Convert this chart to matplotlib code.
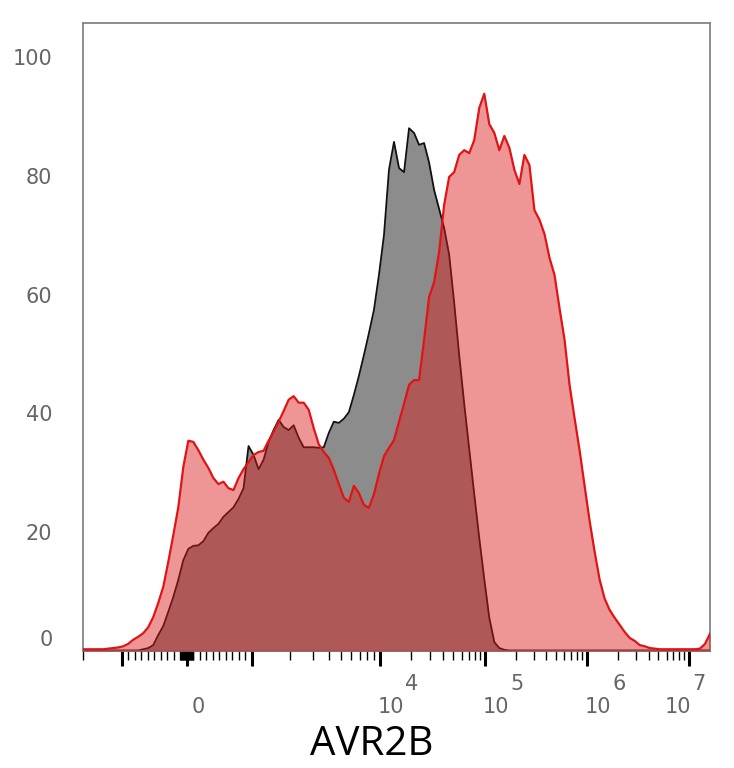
# AVR2B histogram overlay (biexponential x axis), redrawn with matplotlib
import matplotlib
matplotlib.use("Agg")
import matplotlib.pyplot as plt
import numpy as np

# data: % of max per display bin, bins evenly spaced on the display scale
red_pct = [0.3, 0.3, 0.3, 0.3, 0.3, 0.4, 0.5, 0.6, 0.8, 1.2,
           1.9, 2.4, 3.0, 4.0, 5.7, 8.1, 10.8, 15.0, 19.5, 24.2,
           31.0, 35.4, 35.2, 33.8, 32.2, 30.8, 29.1, 28.1, 28.5, 27.4,
           27.1, 29.1, 30.6, 31.8, 33.0, 33.5, 33.7, 35.4, 36.9, 38.6,
           40.4, 42.3, 42.9, 41.8, 41.8, 40.6, 37.5, 34.8, 33.5, 32.5,
           30.5, 28.1, 25.8, 25.1, 27.8, 26.6, 24.6, 24.1, 26.4, 29.8,
           32.8, 34.2, 35.5, 38.6, 41.6, 44.8, 45.6, 45.6, 52.4, 59.6,
           62.1, 67.2, 75.1, 79.8, 80.6, 83.5, 84.3, 83.8, 86.0, 91.4,
           93.8, 88.7, 87.2, 84.3, 86.7, 84.7, 81.0, 78.6, 83.5, 81.8,
           74.2, 72.6, 70.2, 66.2, 63.3, 57.7, 52.4, 44.8, 39.2, 33.8,
           27.8, 21.9, 16.7, 12.0, 8.8, 6.9, 5.6, 4.4, 3.2, 2.2,
           1.7, 1.0, 0.8, 0.5, 0.4, 0.3, 0.3, 0.3, 0.3, 0.3,
           0.3, 0.3, 0.3, 0.4, 1.2, 2.9]

black_pct = [0.1, 0.1, 0.1, 0.1, 0.1, 0.1, 0.1, 0.1, 0.1, 0.1,
             0.1, 0.1, 0.3, 0.5, 1.0, 2.7, 4.2, 6.6, 9.1, 12.0,
             15.3, 17.2, 17.7, 17.8, 18.5, 19.9, 20.7, 21.4, 22.6, 23.4,
             24.2, 25.6, 27.4, 34.5, 33.0, 30.6, 32.2, 35.2, 37.2, 38.9,
             37.7, 37.2, 38.0, 35.9, 34.3, 34.3, 34.3, 34.2, 34.3, 36.7,
             38.6, 38.4, 39.1, 40.2, 43.1, 46.3, 49.8, 53.5, 57.4, 63.3,
             70.0, 81.0, 85.7, 81.3, 80.6, 88.0, 87.2, 85.2, 85.5, 82.2,
             77.6, 74.4, 71.2, 66.7, 58.6, 49.8, 41.6, 34.0, 26.4, 19.0,
             12.1, 5.6, 1.5, 0.5, 0.2, 0.1, 0.1, 0.1, 0.1, 0.1,
             0.1, 0.1, 0.1, 0.1, 0.1, 0.1, 0.1, 0.1, 0.1, 0.1,
             0.1, 0.1, 0.1, 0.1, 0.1, 0.1, 0.1, 0.1, 0.1, 0.1,
             0.1, 0.1, 0.1, 0.1, 0.1, 0.1, 0.1, 0.1, 0.1, 0.1,
             0.1, 0.1, 0.1, 0.1, 0.1, 0.1]

x_min, x_max = -2000, 1.6e7
y_ticks = [0, 20, 40, 60, 80, 100]
x_major = [-1e3, 0, 1e3, 1e4, 1e5, 1e6, 1e7]
x_labels = [(0, "0", ""), (1e4, "10", "4"), (1e5, "10", "5"), (1e6, "10", "6"), (1e7, "10", "7")]

# biexponential-like display scale: linear within +-1000, log decades outside
LIN_EDGE = 1000
DECADES = [3, 4, 5, 6, 7, 8]
DECADE_POS = [65, 193, 298, 400, 502, 604]


def fwd(v):
    v = np.asarray(v, dtype=float)
    a = np.abs(v)
    lg = np.interp(np.log10(np.maximum(a, LIN_EDGE)), DECADES, DECADE_POS)
    return np.sign(v) * np.where(a <= LIN_EDGE, a * DECADE_POS[0] / LIN_EDGE, lg)


def inv(u):
    u = np.asarray(u, dtype=float)
    a = np.abs(u)
    lg = 10 ** np.interp(a, DECADE_POS, DECADES)
    return np.sign(u) * np.where(a <= DECADE_POS[0], a * LIN_EDGE / DECADE_POS[0], lg)


bins = inv(np.linspace(fwd(x_min), fwd(x_max), len(red_pct)))

# minor ticks
x_minor = [s * k * 10 for s in (-1, 1) for k in range(1, 10)]
x_minor += [s * k * 100 for s in (-1, 1) for k in range(1, 10)]
x_minor += [-2000]
x_minor += [k * 10 ** d for d in range(3, 7) for k in range(2, 10)]

fig = plt.figure(figsize=(7.34, 7.68), dpi=100)
ax = fig.add_axes([0.1131, 0.1523, 0.8542, 0.8177])
ax.set_xscale("function", functions=(fwd, inv))

ax.fill_between(bins, black_pct, color="#8c8c8c", lw=0, zorder=1)
ax.plot(bins, black_pct, color="#111111", lw=1.3, zorder=2)
ax.fill_between(bins, red_pct, color=(218 / 255, 27 / 255, 27 / 255), alpha=0.46, lw=0, zorder=3)
ax.plot(bins, red_pct, color="#e01414", lw=1.6, zorder=4)

ax.set_xlim(x_min, x_max)
ax.set_ylim(0, 105.7)

# y axis
gray = "#666666"
ax.set_yticks(y_ticks[1:])
ax.set_yticklabels([str(t) for t in y_ticks[1:]])
ax.tick_params(axis="y", length=0, pad=22, labelsize=15, labelcolor=gray)
ax.annotate("0", xy=(0, 0), xycoords="axes fraction", xytext=(-22, 8),
            textcoords="offset points", ha="right", va="center", fontsize=15, color=gray)

# x axis
ax.set_xticks(x_major)
ax.set_xticks(x_minor, minor=True)
ax.tick_params(axis="x", which="major", length=11, width=2.2, color="black", labelbottom=False)
ax.tick_params(axis="x", which="minor", length=6.5, width=1.0, color="black")
for val, base, exp in x_labels:
    dx = -8 if val == 1e7 else 8
    ax.annotate(base, xy=(val, 0), xycoords=("data", "axes fraction"), xytext=(dx, -40),
                textcoords="offset points", ha="center", va="center", fontsize=15, color=gray)
    if exp:
        ax.annotate(exp, xy=(val, 0), xycoords=("data", "axes fraction"), xytext=(dx + 15, -24),
                    textcoords="offset points", ha="center", va="center", fontsize=15, color=gray)

ax.set_xlabel("AVR2B", fontsize=29, family="Open Sans")
ax.xaxis.set_label_coords(0.461, -0.1497)
ax.xaxis.label.set_va("center")

for s in ax.spines.values():
    s.set_color("#7a7a7a")
    s.set_linewidth(1.2)

fig.savefig("out.png", dpi=100)
